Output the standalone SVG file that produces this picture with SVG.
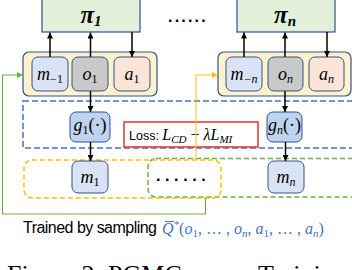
<svg xmlns="http://www.w3.org/2000/svg" width="352" height="270" viewBox="0 0 352 270">
<defs>
<style>
.pi{fill:#e2efd9;stroke:#2f528f;stroke-width:1.2}
.cont{fill:#fff2cc;stroke:#2f528f;stroke-width:1.2}
.mb{fill:#dae3f3;stroke:#2f528f;stroke-width:1}
.ob{fill:#c9c9c9;stroke:#2f528f;stroke-width:1}
.ab{fill:#fbe5d6;stroke:#2f528f;stroke-width:1}
.gb{fill:#bdd3ee;stroke:#2f528f;stroke-width:1}
.math{font-family:"Liberation Serif","DejaVu Serif",serif;font-style:italic;font-size:18px;fill:#000}
.pit{font-family:"Liberation Serif","DejaVu Serif",serif;font-style:italic;font-weight:bold;font-size:25px;fill:#000}
.sb{font-style:normal;font-size:12px}
.sbi{font-size:12px}
.sbp{font-size:15px}
.arr{stroke:#000;stroke-width:1.5;fill:none}
.dots{font-family:"Liberation Sans",sans-serif;font-weight:bold;font-size:16px;fill:#000}
</style>
<marker id="ah" viewBox="0 0 10 10" refX="10" refY="5" markerWidth="4" markerHeight="4" orient="auto" markerUnits="strokeWidth"><path d="M0,0 L10,5 L0,10 z" fill="#000"/></marker>
<marker id="ag" viewBox="0 0 10 10" refX="10" refY="5" markerWidth="5" markerHeight="5" orient="auto" markerUnits="strokeWidth"><path d="M0,0 L10,5 L0,10 z" fill="#70ad47"/></marker>
<marker id="ao" viewBox="0 0 10 10" refX="10" refY="5" markerWidth="6" markerHeight="6" orient="auto" markerUnits="strokeWidth"><path d="M0,0 L10,5 L0,10 z" fill="#ffc000"/></marker>
</defs>
<rect width="352" height="270" fill="#fff"/>

<g id="regions">
<rect x="23" y="101" width="345" height="47" fill="none" stroke="#4472c4" stroke-width="1.5" stroke-dasharray="6,3"/>
<rect x="148" y="158.5" width="212" height="38.5" rx="8" fill="none" stroke="#70ad47" stroke-width="1.5" stroke-dasharray="5,3"/>
<rect x="24" y="160" width="197" height="38" rx="8" fill="none" stroke="#ffc000" stroke-width="1.5" stroke-dasharray="5,3"/>
</g>

<g id="pi1">
<rect class="pi" x="42" y="-2" width="98" height="34"/>
<text class="pit" x="91" y="23" text-anchor="middle">π<tspan class="sbp" dy="3">1</tspan></text>
</g>
<g id="pin">
<rect class="pi" x="237" y="-2" width="98" height="34"/>
<text class="pit" x="285" y="23" text-anchor="middle">π<tspan class="sbp" dy="3">n</tspan></text>
</g>
<text class="dots" x="168" y="22" letter-spacing="2.2">......</text>

<g id="agent1">
<rect class="cont" x="23" y="52" width="134" height="44" rx="6"/>
<rect class="mb" x="32" y="57" width="36" height="34" rx="6"/>
<text class="math" x="50" y="80" text-anchor="middle">m<tspan class="sb" dy="3">−1</tspan></text>
<rect class="ob" x="72" y="57" width="36" height="34" rx="6"/>
<text class="math" x="90" y="80" text-anchor="middle">o<tspan class="sb" dy="3">1</tspan></text>
<rect class="ab" x="114" y="57" width="36" height="34" rx="6"/>
<text class="math" x="132" y="80" text-anchor="middle">a<tspan class="sb" dy="3">1</tspan></text>
</g>
<g id="agentn">
<rect class="cont" x="218" y="52" width="133" height="44" rx="6"/>
<rect class="mb" x="226" y="57" width="36" height="34" rx="6"/>
<text class="math" x="244" y="80" text-anchor="middle">m<tspan class="sbi" dy="3">−n</tspan></text>
<rect class="ob" x="268" y="57" width="35" height="34" rx="6"/>
<text class="math" x="285.5" y="80" text-anchor="middle">o<tspan class="sbi" dy="3">n</tspan></text>
<rect class="ab" x="309" y="57" width="35" height="34" rx="6"/>
<text class="math" x="326.5" y="80" text-anchor="middle">a<tspan class="sbi" dy="3">n</tspan></text>
</g>

<g id="g1">
<rect class="gb" x="70" y="112" width="40" height="30" rx="6"/>
<text class="math" x="90" y="131" text-anchor="middle">g<tspan class="sb" dy="3">1</tspan><tspan font-style="normal" dy="-3">(·)</tspan></text>
</g>
<g id="gn">
<rect class="gb" x="267" y="112" width="35" height="30" rx="6"/>
<text class="math" x="284.5" y="131" text-anchor="middle">g<tspan class="sbi" dy="3">n</tspan><tspan font-style="normal" dy="-3">(·)</tspan></text>
</g>

<g id="loss">
<rect x="124" y="122" width="134" height="25" fill="#fff" stroke="#e8322b" stroke-width="1.5"/>
<text x="129" y="140" font-family="Liberation Sans, sans-serif" font-size="12.5" fill="#000">Loss: <tspan font-family="Liberation Serif, serif" font-style="italic" font-size="16">L</tspan><tspan font-family="Liberation Serif, serif" font-style="italic" font-size="11" dy="3">CD</tspan><tspan font-family="Liberation Serif, serif" font-size="16" dy="-3"> − </tspan><tspan font-family="Liberation Serif, serif" font-style="italic" font-size="16">λL</tspan><tspan font-family="Liberation Serif, serif" font-style="italic" font-size="11" dy="3">MI</tspan></text>
</g>

<g id="m1">
<rect class="mb" x="72" y="161" width="36" height="32" rx="6"/>
<text class="math" x="90" y="183" text-anchor="middle">m<tspan class="sb" dy="3">1</tspan></text>
</g>
<g id="mn">
<rect class="mb" x="268" y="161" width="36" height="32" rx="6"/>
<text class="math" x="286" y="183" text-anchor="middle">m<tspan class="sbi" dy="3">n</tspan></text>
</g>
<text class="dots" x="156" y="181" letter-spacing="4.6">......</text>

<g id="connectors">
<line class="arr" x1="50" y1="57" x2="50" y2="32.5" marker-end="url(#ah)"/>
<line class="arr" x1="90.5" y1="57" x2="90.5" y2="32.5" marker-end="url(#ah)"/>
<line class="arr" x1="132" y1="32" x2="132" y2="57" marker-end="url(#ah)"/>
<line class="arr" x1="244" y1="57" x2="244" y2="32.5" marker-end="url(#ah)"/>
<line class="arr" x1="285" y1="57" x2="285" y2="32.5" marker-end="url(#ah)"/>
<line class="arr" x1="327" y1="32" x2="327" y2="57" marker-end="url(#ah)"/>
<line class="arr" x1="90.5" y1="91" x2="90.5" y2="112" marker-end="url(#ah)"/>
<line class="arr" x1="285" y1="91" x2="285" y2="112" marker-end="url(#ah)"/>
<line class="arr" x1="90.5" y1="142" x2="90.5" y2="161" marker-end="url(#ah)"/>
<line class="arr" x1="285.5" y1="142" x2="285.5" y2="161" marker-end="url(#ah)"/>
<path d="M205.5,198 V214 H2.5 V75 H23" fill="none" stroke="#70ad47" stroke-width="1.2" marker-end="url(#ag)"/>
<path d="M196,160 V75 H218" fill="none" stroke="#ffc000" stroke-width="1" marker-end="url(#ao)"/>
</g>

<g id="caption">
<text x="23" y="233" font-family="Liberation Sans, sans-serif" font-size="16" textLength="134" lengthAdjust="spacing" fill="#000">Trained by sampling</text>
<line x1="165" y1="221.5" x2="174" y2="221.5" stroke="#4472c4" stroke-width="1"/>
<text x="162" y="234" font-family="Liberation Serif, serif" font-style="italic" font-size="16" fill="#4472c4">Q<tspan font-size="11" dy="-6">*</tspan><tspan font-style="normal" dy="6">(</tspan>o<tspan font-style="normal" font-size="11" dy="3">1</tspan><tspan font-style="normal" dy="-3">, … , </tspan>o<tspan font-size="11" dy="3">n</tspan><tspan font-style="normal" dy="-3">, </tspan>a<tspan font-style="normal" font-size="11" dy="3">1</tspan><tspan font-style="normal" dy="-3">, … , </tspan>a<tspan font-size="11" dy="3">n</tspan><tspan font-style="normal" dy="-3">)</tspan></text>
<text y="283" font-family="Liberation Serif, serif" font-size="26" fill="#000"><tspan x="7">Figure 2: PGMC</tspan><tspan x="258">Training</tspan></text>
</g>
</svg>
